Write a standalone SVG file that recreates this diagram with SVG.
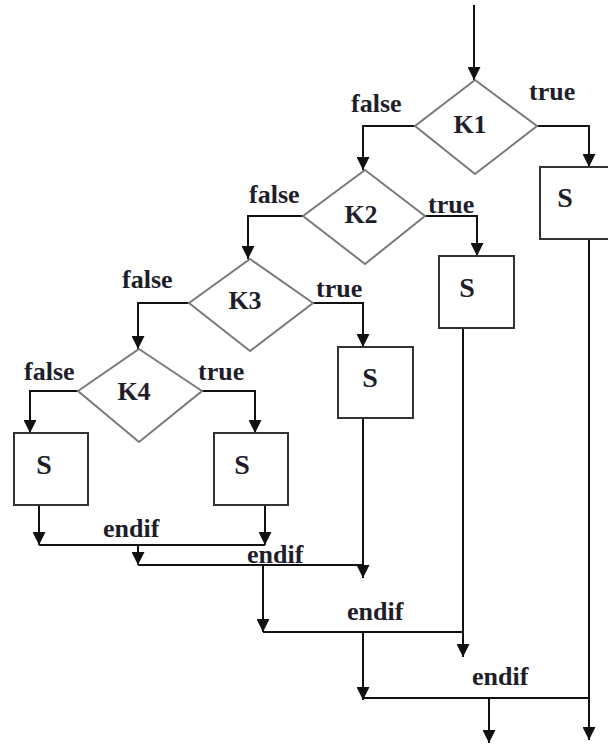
<svg xmlns="http://www.w3.org/2000/svg" width="608" height="747" viewBox="0 0 608 747">
<style>
.c{fill:none;stroke:#111;stroke-width:2;marker-end:url(#ah)}
.l{fill:none;stroke:#111;stroke-width:2}
.d{fill:#fff;stroke:#7a7a7a;stroke-width:2}
.b{fill:#fff;stroke:#333;stroke-width:2}
text{font-family:"Liberation Serif","Times New Roman",serif;font-weight:bold;font-size:26px;fill:#1e1e2a}
.m{text-anchor:middle}
.s{font-size:28px}
</style>
<defs>
<marker id="ah" viewBox="0 0 12 13" refX="13" refY="6.5" markerWidth="12" markerHeight="13" markerUnits="userSpaceOnUse" orient="auto">
<path d="M0,0 L13,6.5 L0,13 z" fill="#111"/>
</marker>
</defs>
<rect width="608" height="747" fill="#fff"/>
<g id="connectors">
<path class="c" d="M474,5 V80"/>
<path class="c" d="M537,126 H589 V167"/>
<path class="c" d="M415,126 H363 V170"/>
<path class="c" d="M425,216 H477 V256"/>
<path class="c" d="M303,216 H248 V259"/>
<path class="c" d="M313,303 H363 V347"/>
<path class="c" d="M189,303 H138 V349"/>
<path class="c" d="M202,391 H255 V433"/>
<path class="c" d="M78,391 H30 V433"/>
<path class="c" d="M39,505 V545"/>
<path class="c" d="M265,505 V545"/>
<path class="l" d="M39,545 H265"/>
<path class="c" d="M138,545 V565"/>
<path class="l" d="M138,565 H363"/>
<path class="c" d="M363,418 V578"/>
<path class="c" d="M263,565 V632"/>
<path class="l" d="M263,632 H463"/>
<path class="c" d="M463,328 V657"/>
<path class="c" d="M363,632 V700"/>
<path class="l" d="M363,698 H589"/>
<path class="c" d="M489,698 V743"/>
<path class="c" d="M589,239 V740"/>
</g>
<g id="K1"><polygon class="d" points="475,80 537,126 475,174 415,126"/><text class="m" x="470" y="133">K1</text></g>
<g id="K2"><polygon class="d" points="365,170 425,216 365,264 303,216"/><text class="m" x="361" y="223">K2</text></g>
<g id="K3"><polygon class="d" points="250,259 313,303 250,351 189,303"/><text class="m" x="245" y="309">K3</text></g>
<g id="K4"><polygon class="d" points="139,349 202,391 139,442 78,391"/><text class="m" x="134" y="400">K4</text></g>
<g id="S1"><rect class="b" x="540" y="167" width="74" height="72"/><text class="m s" x="565" y="207">S</text></g>
<g id="S2"><rect class="b" x="439" y="256" width="75" height="72"/><text class="m s" x="467" y="297">S</text></g>
<g id="S3"><rect class="b" x="338" y="347" width="75" height="71"/><text class="m s" x="370" y="387">S</text></g>
<g id="S4"><rect class="b" x="14" y="433" width="74" height="72"/><text class="m s" x="44" y="474">S</text></g>
<g id="S5"><rect class="b" x="214" y="433" width="74" height="72"/><text class="m s" x="242" y="474">S</text></g>
<g id="labels">
<text x="351" y="112">false</text>
<text x="529" y="100">true</text>
<text x="249" y="203">false</text>
<text x="428" y="213">true</text>
<text x="122" y="288">false</text>
<text x="316" y="297">true</text>
<text x="24" y="380">false</text>
<text x="198" y="380">true</text>
<text x="103" y="537">endif</text>
<text x="247" y="563">endif</text>
<text x="347" y="620">endif</text>
<text x="472" y="685">endif</text>
</g>
</svg>
